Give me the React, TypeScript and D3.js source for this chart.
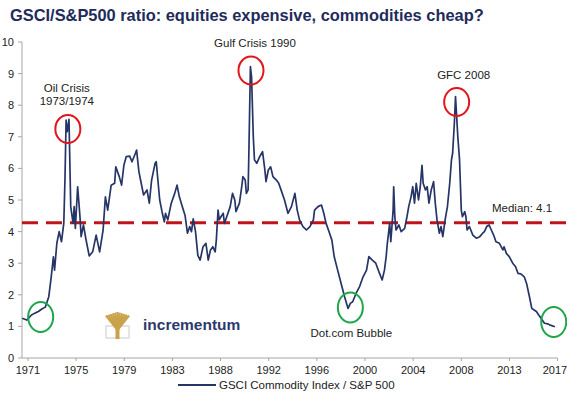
import { scaleLinear, line as d3_line, range } from "d3";

// GSCI / S&P 500 ratio (decimal year, ratio)
const years = [
  1970.9, 1971.3, 1971.7, 1972.0, 1972.3, 1972.6, 1972.9, 1973.2, 1973.4, 1973.6,
  1973.7, 1973.9, 1974.1, 1974.3, 1974.5, 1974.6, 1974.7, 1974.8, 1974.95, 1975.1,
  1975.3, 1975.4, 1975.5, 1975.7, 1975.9, 1976.0, 1976.2, 1976.4, 1976.7, 1977.0,
  1977.3, 1977.6, 1977.9, 1978.1, 1978.3, 1978.6, 1978.9, 1979.0, 1979.3, 1979.5,
  1979.7, 1979.9, 1980.2, 1980.4, 1980.7, 1980.8, 1981.0, 1981.2, 1981.4, 1981.7,
  1981.9, 1982.1, 1982.4, 1982.5, 1982.8, 1983.0, 1983.2, 1983.3, 1983.5, 1983.8,
  1984.1, 1984.3, 1984.5, 1984.8, 1985.0, 1985.2, 1985.4, 1985.55, 1985.7, 1985.9,
  1986.1, 1986.3, 1986.55, 1986.8, 1987.0, 1987.2, 1987.4, 1987.6, 1987.7, 1987.85,
  1987.95, 1988.1, 1988.3, 1988.4, 1988.6, 1988.9, 1989.1, 1989.3, 1989.4, 1989.7,
  1989.9, 1990.0, 1990.2, 1990.3, 1990.45, 1990.5, 1990.65, 1990.75, 1990.9, 1991.0,
  1991.2, 1991.45, 1991.7, 1991.9, 1992.0, 1992.2, 1992.4, 1992.6, 1992.9, 1993.1,
  1993.3, 1993.6, 1993.9, 1994.2, 1994.5, 1994.7, 1994.9, 1995.2, 1995.5, 1995.8,
  1996.1, 1996.2, 1996.5, 1996.8, 1997.0, 1997.2, 1997.5, 1997.7, 1997.9, 1998.2,
  1998.5, 1998.8, 1999.1, 1999.3, 1999.5, 1999.8, 2000.1, 2000.4, 2000.7, 2000.9,
  2001.2, 2001.5, 2001.8, 2002.05, 2002.25, 2002.4, 2002.5, 2002.7, 2002.8, 2003.0,
  2003.05, 2003.15, 2003.25, 2003.5, 2003.7, 2004.0, 2004.2, 2004.35, 2004.55, 2004.7,
  2004.85, 2005.0, 2005.2, 2005.35, 2005.5, 2005.6, 2005.8, 2005.95, 2006.1, 2006.3,
  2006.5, 2006.65, 2006.8, 2007.0, 2007.15, 2007.3, 2007.5, 2007.7, 2007.9, 2008.05,
  2008.15, 2008.3, 2008.4, 2008.5, 2008.6, 2008.75, 2008.9, 2009.0, 2009.2, 2009.3,
  2009.4, 2009.6, 2009.9, 2010.2, 2010.5, 2010.75, 2010.9, 2011.1, 2011.3, 2011.5,
  2011.7, 2011.9, 2012.2, 2012.5, 2012.6, 2012.8, 2013.05, 2013.35, 2013.6, 2013.8,
  2014.05, 2014.35, 2014.55, 2014.8, 2015.0, 2015.2, 2015.4, 2015.6, 2015.8, 2016.1,
  2016.4, 2016.6, 2017.0,
];
const ratio = [
  1.26, 1.2, 1.36, 1.42, 1.47, 1.55, 1.61, 1.94, 2.53, 3.2,
  2.78, 3.64, 4.0, 3.68, 4.27, 5.63, 7.53, 7.16, 7.55, 4.79,
  4.27, 4.79, 4.1, 5.42, 4.47, 3.84, 4.21, 3.79, 3.23, 3.36,
  3.89, 3.36, 4.05, 5.1, 4.68, 5.47, 5.53, 6.05, 5.74, 5.47,
  6.1, 6.37, 6.39, 6.21, 6.48, 6.58, 5.9, 5.53, 5.16, 5.32,
  4.9, 5.63, 6.16, 6.21, 5.0, 4.63, 4.31, 4.58, 4.37, 4.9,
  5.21, 5.47, 5.1, 4.74, 4.5, 3.95, 4.16, 4.0, 4.4, 4.0,
  3.25, 3.1, 3.52, 3.63, 3.1, 3.42, 3.52, 3.36, 3.73, 4.68,
  4.37, 4.47, 4.58, 4.26, 4.47, 4.79, 5.21, 5.0, 4.63, 4.9,
  5.42, 5.74, 5.63, 5.21, 5.32, 6.16, 9.22, 8.9, 7.0, 6.27,
  6.16, 6.37, 6.53, 5.95, 5.58, 5.95, 6.05, 5.74, 5.63, 5.53,
  5.32, 5.0, 4.58, 4.79, 5.21, 4.68, 4.37, 4.16, 4.05, 4.16,
  4.37, 4.68, 4.79, 4.84, 4.58, 4.26, 3.95, 3.73, 3.21, 2.78,
  2.36, 1.94, 1.57, 1.73, 1.78, 2.05, 2.26, 2.57, 2.78, 3.21,
  3.1, 3.0, 2.7, 2.47, 2.78, 3.21, 3.63, 4.26, 3.68, 4.68,
  5.42, 4.47, 4.05, 4.21, 4.0, 4.1, 4.47, 4.79, 5.1, 5.42,
  4.9, 5.53, 5.0, 5.42, 6.1, 5.53, 5.32, 5.42, 4.9, 5.32,
  5.58, 4.9, 4.37, 3.95, 4.16, 3.84, 4.37, 4.79, 5.53, 6.27,
  6.48, 7.43, 8.27, 7.64, 7.0, 6.27, 4.68, 4.47, 4.63, 4.47,
  4.05, 4.16, 3.89, 3.79, 3.84, 3.95, 4.0, 4.16, 4.21, 4.05,
  3.89, 3.68, 3.63, 3.42, 3.52, 3.31, 3.21, 3.0, 2.89, 2.68,
  2.66, 2.57, 2.36, 1.94, 1.57, 1.52, 1.47, 1.36, 1.26, 1.1,
  1.08, 1.04, 0.99,
];

const tickLabels = ["1971", "1975", "1979", "1983", "1988", "1992", "1996", "2000", "2004", "2008", "2013", "2017"];
const yTicks = range(0, 11);
const medianLevel = 4.28;
const medianLabel = "Median: 4.1";

// event annotations: year + ratio at the marked point
const crises = [
  { year: 1974.85, value: 7.25, label: ["Oil Crisis", "1973/1974"] },
  { year: 1990.7, value: 9.1, label: ["Gulf Crisis 1990"] },
  { year: 2008.5, value: 8.1, label: ["GFC 2008"] },
];
const lows = [
  { year: 1972.5, value: 1.3, label: "" },
  { year: 1999.3, value: 1.6, label: "Dot.com Bubble" },
  { year: 2016.9, value: 1.14, label: "" },
];

const W = 567;
const H = 397;
const font = "'Liberation Sans', Arial, sans-serif";

export default function App() {
  const x = scaleLinear().domain([1970.9, 2017.27]).range([22.2, 558]);
  const y = scaleLinear().domain([0, 10]).range([358, 42]);
  const tickYears = tickLabels.map((_, i) => 1971.4 + (i * 50) / 12);

  const path = d3_line<number>()
    .x((_, i) => x(years[i]))
    .y((d) => y(d))(ratio);

  return (
    <svg
      width={W}
      height={H}
      style={{ position: "absolute", left: 0, top: 0, background: "#fff", fontFamily: font }}
    >
      <text x={10} y={21} fontSize={16.4} fontWeight="bold" fill="#1f2b5c">
        GSCI/S&amp;P500 ratio: equities expensive, commodities cheap?
      </text>

      {/* Y axis */}
      <line x1={22} x2={22} y1={y(10)} y2={y(0)} stroke="#a6a6a6" />
      {yTicks.map((t) => (
        <g key={t}>
          <line x1={18} x2={22} y1={y(t)} y2={y(t)} stroke="#a6a6a6" />
          <text x={14} y={y(t) + 4} fontSize={11} textAnchor="end" fill="#222">
            {t}
          </text>
        </g>
      ))}

      {/* X axis */}
      <line x1={22} x2={x(tickYears[tickYears.length - 1])} y1={358} y2={358} stroke="#a6a6a6" />
      {tickYears.map((t, i) => (
        <g key={i}>
          <line x1={x(t)} x2={x(t)} y1={358} y2={361} stroke="#a6a6a6" />
          <text
            x={Math.min(x(t), W - 12)}
            y={374}
            fontSize={11}
            textAnchor="middle"
            fill="#222"
          >
            {tickLabels[i]}
          </text>
        </g>
      ))}

      {/* median */}
      <line
        x1={22}
        x2={W}
        y1={y(medianLevel)}
        y2={y(medianLevel)}
        stroke="#c0141b"
        strokeWidth={3}
        strokeDasharray="16,8"
      />
      <text x={492} y={212} fontSize={11.5} fill="#222">
        {medianLabel}
      </text>

      <path d={path ?? ""} fill="none" stroke="#263566" strokeWidth={1.7} strokeLinejoin="round" />

      {crises.map((c, i) => (
        <g key={i}>
          <ellipse cx={x(c.year)} cy={y(c.value)} rx={12.5} ry={14} fill="none" stroke="#e2141c" strokeWidth={2} />
          {c.label.map((l, j) => (
            <text
              key={j}
              x={x(c.year) + (i === 0 ? -1 : i === 1 ? 4 : 7)}
              y={y(c.value) - (c.label.length - j) * 13.5 - 10}
              fontSize={11.5}
              textAnchor="middle"
              fill="#222"
            >
              {l}
            </text>
          ))}
        </g>
      ))}

      {lows.map((c, i) => (
        <g key={i}>
          <ellipse cx={x(c.year)} cy={y(c.value)} rx={12.5} ry={15} fill="none" stroke="#1fa64a" strokeWidth={2} />
          {c.label && (
            <text x={x(c.year) + 1} y={y(c.value) + 30} fontSize={11.5} textAnchor="middle" fill="#222">
              {c.label}
            </text>
          )}
        </g>
      ))}

      {/* incrementum logo */}
      <g>
        <rect x={106} y={326} width={23} height={12} fill="none" stroke="#dcdcdc" strokeWidth={1.5} />
        {range(11).map((k) => (
          <line
            key={k}
            x1={117.5}
            y1={330}
            x2={106 + k * 2.3}
            y2={312 + Math.abs(k - 5) * 0.7}
            stroke="#c9a24a"
            strokeWidth={2.2}
          />
        ))}
        <rect x={115.5} y={322} width={4} height={17} fill="#c9a24a" />
        <text x={143} y={330} fontSize={15.5} fontWeight="bold" fill="#2c3a6b">
          incrementum
        </text>
      </g>

      {/* legend */}
      <line x1={178} x2={216} y1={385} y2={385} stroke="#263566" strokeWidth={2} />
      <text x={219} y={389} fontSize={11.5} fill="#222">
        GSCI Commodity Index / S&amp;P 500
      </text>
    </svg>
  );
}
